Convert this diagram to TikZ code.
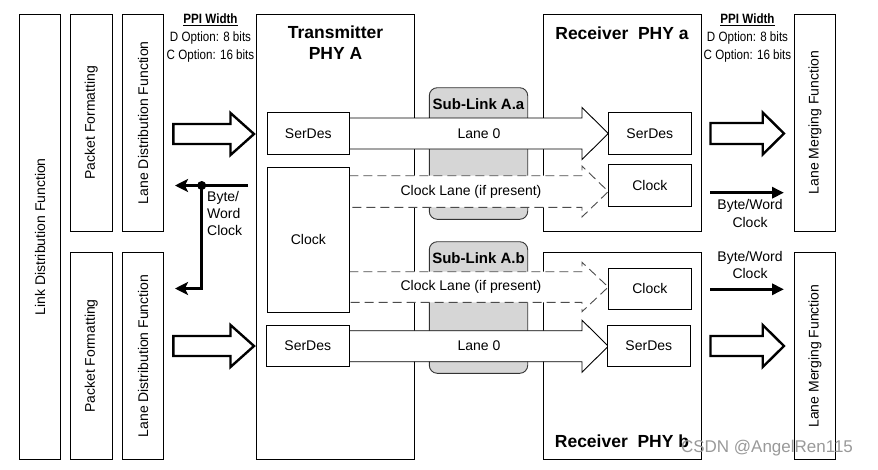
\documentclass[tikz,border=0pt]{standalone}
\usepackage{fontspec}
\setmainfont{Liberation Sans}
\newfontfamily\narrowfont[FakeStretch=0.86]{Liberation Sans}
\usetikzlibrary{arrows.meta}
\newcommand\blkarrow[8]{% style, x1, xhead, xtip, yc, shaft half, head half, close
  \path[#1] (#2,#5-#6) -- (#3,#5-#6) -- (#3,#5-#7) -- (#4,#5) -- (#3,#5+#7) -- (#3,#5+#6) -- (#2,#5+#6) #8;}
\begin{document}
\begin{tikzpicture}[x=1pt,y=-1pt,
  box/.style={draw, line width=0.9pt, fill=white, inner sep=0pt},
  txt/.style={font=\fontsize{14}{16}\selectfont, inner sep=0pt},
  rot/.style={txt, rotate=90},
  ttl/.style={font=\bfseries\fontsize{17.5}{21}\selectfont, inner sep=0pt, align=center},
  sub/.style={font=\bfseries\fontsize{15}{17}\selectfont, inner sep=0pt},
  ppi/.style={font=\narrowfont\fontsize{13.5}{18}\selectfont, inner sep=0pt, align=center},
  lane/.style={draw, line width=0.9pt, fill=white},
  dlane/.style={draw, line width=0.9pt, fill=white, dash pattern=on 9pt off 5pt, draw=black!70},
  fat/.style={draw, line width=2.4pt, fill=white, line join=miter},
  clk/.style={line width=3pt},
  slink/.style={draw=black!80, line width=0.9pt, fill=black!16, rounded corners=8pt, inner sep=0pt}]
\useasboundingbox (0,0) rectangle (878,469);
% outer function boxes
\node[box, minimum width=41.4, minimum height=445] (ldf) at (40,236.8) {};
\node[rot] at (ldf.center) {Link Distribution Function};
\node[box, minimum width=42.7, minimum height=216.7] (pfa) at (91.3,122.7) {};
\node[rot] at (pfa.center) {Packet Formatting};
\node[box, minimum width=42.7, minimum height=206.6] (pfb) at (91.3,356) {};
\node[rot] at (pfb.center) {Packet Formatting};
\node[box, minimum width=41.4, minimum height=216.7] (lda) at (143,122.7) {};
\node[rot] at (lda.center) {Lane Distribution Function};
\node[box, minimum width=41.4, minimum height=206.6] (ldb) at (143,356) {};
\node[rot] at (ldb.center) {Lane Distribution Function};
\node[box, minimum width=41.4, minimum height=216.7] (lma) at (815,122.7) {};
\node[rot] at (lma.center) {Lane Merging Function};
\node[box, minimum width=41.4, minimum height=206.6] (lmb) at (815,356) {};
\node[rot] at (lmb.center) {Lane Merging Function};
% PHY boxes
\node[box, minimum width=158.4, minimum height=445] (tx) at (335.5,236.8) {};
\node[ttl] (txt) at (335.5,42.5) {Transmitter\\PHY A};
\node[box, minimum width=158, minimum height=216.7] (rxa) at (622.3,122.7) {};
\node[ttl] (rxat) at (622,33) {Receiver\ \ PHY a};
\node[box, minimum width=158, minimum height=206.6] (rxb) at (622.3,356) {};
\node[ttl] (rxbt) at (622,441) {Receiver\ \ PHY b};
% sub-links
\node[slink, minimum width=98.4, minimum height=131.6] (sla) at (478.5,153.5) {};
\node[sub] at (478.5,104) {Sub-Link A.a};
\node[slink, minimum width=98.4, minimum height=131.6] (slb) at (478.5,307.5) {};
\node[sub] at (478.5,258.3) {Sub-Link A.b};
% lanes
\blkarrow{lane}{349.3}{582}{608.3}{133.5}{15.5}{26}{}
\node[txt] at (479,133.5) {Lane 0};
\blkarrow{dlane}{349.3}{582}{608.3}{191.5}{15.8}{25.5}{}
\node[txt] at (471,192) {Clock Lane (if present)};
\blkarrow{dlane}{349.3}{582}{608.3}{287}{15.3}{24.7}{}
\node[txt] at (471,287) {Clock Lane (if present)};
\blkarrow{lane}{349.3}{582}{608.3}{346.2}{15.5}{26}{}
\node[txt] at (479,346) {Lane 0};
% inner boxes
\node[box, minimum width=82, minimum height=42] (txsa) at (308.3,133.3) {};
\node[txt] at (txsa.center) {SerDes};
\node[box, minimum width=82, minimum height=145] (txck) at (308.3,239.8) {};
\node[txt] at (txck.center) {Clock};
\node[box, minimum width=83, minimum height=40.3] (txsb) at (307.8,345.8) {};
\node[txt] at (txsb.center) {SerDes};
\node[box, minimum width=83, minimum height=42] (rxsa) at (649.8,133.3) {};
\node[txt] at (rxsa.center) {SerDes};
\node[box, minimum width=83, minimum height=42.4] (rxca) at (649.8,185.5) {};
\node[txt] at (rxca.center) {Clock};
\node[box, minimum width=83, minimum height=41] (rxcb) at (649.8,288.8) {};
\node[txt] at (rxcb.center) {Clock};
\node[box, minimum width=83, minimum height=40.3] (rxsb) at (648.8,345.8) {};
\node[txt] at (rxsb.center) {SerDes};
% fat data arrows
\blkarrow{fat}{173.3}{230.5}{254}{134}{10}{21}{-- cycle}
\blkarrow{fat}{173.3}{230.5}{254}{346}{10}{21}{-- cycle}
\blkarrow{fat}{710.5}{762.7}{784}{133.5}{10.5}{21}{-- cycle}
\blkarrow{fat}{710.5}{762.7}{784}{346}{10}{21}{-- cycle}
% PPI width labels
\node[ppi] at (210.5,38.5) {\underline{\textbf{PPI Width}}\\D Option: 8 bits\\C Option: 16 bits};
\node[ppi] at (747.5,38.5) {\underline{\textbf{PPI Width}}\\D Option: 8 bits\\C Option: 16 bits};
% transmit byte/word clock
\coordinate (ck0) at (248,185.5);
\coordinate (ckd) at (201.7,185.5);
\coordinate (cka) at (175,185.5);
\coordinate (ckc) at (201.7,288.5);
\coordinate (ckb) at (175,288.5);
\draw[clk, -{Stealth[length=13pt,width=13pt,inset=3pt]}] (ck0) -- (cka);
\draw[clk, -{Stealth[length=13pt,width=13pt,inset=3pt]}, line join=miter] (ckd) -- (ckc) -- (ckb);
\fill (ckd) circle (4.5pt);
\node[txt, align=left, anchor=north west, font=\fontsize{14}{17}\selectfont] at (207,191.5) {Byte/\\Word\\Clock};
% receive byte/word clocks
\coordinate (rk0) at (710,192.7);
\coordinate (rk1) at (784,192.7);
\coordinate (rk2) at (710,289.3);
\coordinate (rk3) at (784,289.3);
\draw[clk, -{Triangle[length=12pt,width=11pt]}] (rk0) -- (rk1);
\draw[clk, -{Triangle[length=12pt,width=11pt]}] (rk2) -- (rk3);
\node[txt, align=center, font=\fontsize{14}{18.5}\selectfont] at (750,213.5) {Byte/Word\\Clock};
\node[txt, align=center, font=\fontsize{14}{17}\selectfont] at (750,265) {Byte/Word\\Clock};
% watermark
\node[inner sep=0pt, text=black!40, font=\fontsize{17}{20}\selectfont] at (767,448) {CSDN @AngelRen115};
\end{tikzpicture}
\end{document}
